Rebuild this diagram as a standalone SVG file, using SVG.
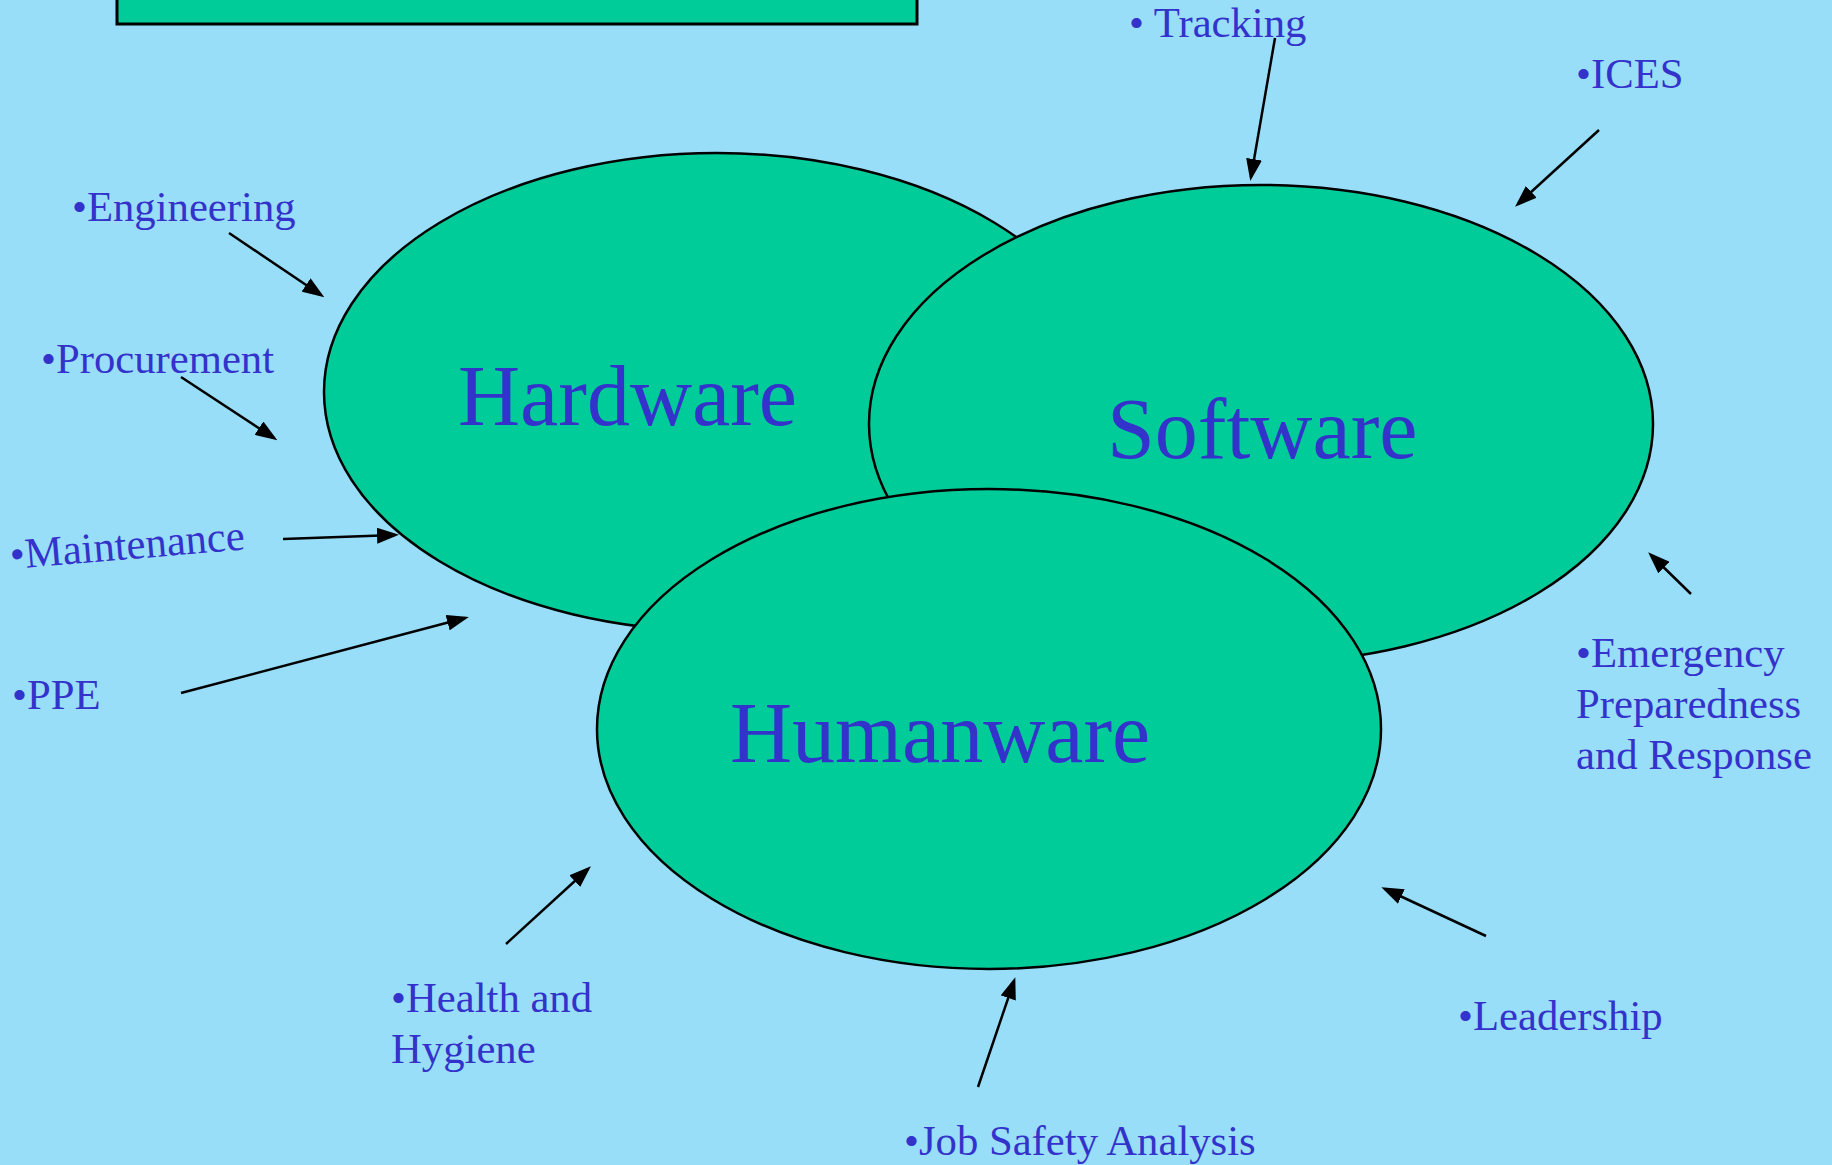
<svg xmlns="http://www.w3.org/2000/svg" width="1832" height="1165" viewBox="0 0 1832 1165">
<style>
.ell{fill:#00CC99;stroke:#000;stroke-width:2.5}
.big{font-family:"Liberation Serif","Times New Roman",serif;font-size:86px;fill:#3333CC}
.lbl{font-family:"Liberation Serif","Times New Roman",serif;font-size:42.7px;fill:#3333CC}
.con{stroke:#000;stroke-width:2.5;fill:none;marker-end:url(#ah)}
</style>
<defs>
<marker id="ah" markerWidth="22" markerHeight="16" refX="18" refY="8" orient="auto" markerUnits="userSpaceOnUse">
<path d="M0,0 L22,8 L0,16 z" fill="#000"/>
</marker>
</defs>
<rect x="0" y="0" width="1832" height="1165" fill="#99DEF8"/>
<g id="title-box">
<rect x="117" y="-40" width="800" height="64" fill="#00CC99" stroke="#000" stroke-width="3"/>
</g>
<g id="hardware">
<ellipse class="ell" cx="717" cy="392" rx="393" ry="239"/>
<text class="big" x="458" y="425">Hardware</text>
</g>
<g id="software">
<ellipse class="ell" cx="1261" cy="424" rx="392" ry="239"/>
<text class="big" x="1107" y="458">Software</text>
</g>
<g id="humanware">
<ellipse class="ell" cx="989" cy="729" rx="392" ry="240"/>
<text class="big" x="730" y="762">Humanware</text>
</g>
<g id="label-tracking"><text class="lbl" x="1129" y="37">• Tracking</text></g>
<g id="label-ices"><text class="lbl" x="1576" y="88">•ICES</text></g>
<g id="label-engineering"><text class="lbl" x="72" y="221">•Engineering</text></g>
<g id="label-procurement"><text class="lbl" x="41" y="373">•Procurement</text></g>
<g id="label-maintenance"><text class="lbl" x="11" y="569" transform="rotate(-4.8 11 569)">•Maintenance</text></g>
<g id="label-ppe"><text class="lbl" x="12" y="709">•PPE</text></g>
<g id="label-emergency"><text class="lbl" x="1576" y="667">•Emergency<tspan x="1576" y="718">Preparedness</tspan><tspan x="1576" y="769">and Response</tspan></text></g>
<g id="label-health"><text class="lbl" x="391" y="1012">•Health and<tspan x="391" y="1063">Hygiene</tspan></text></g>
<g id="label-leadership"><text class="lbl" x="1458" y="1030">•Leadership</text></g>
<g id="label-jsa"><text class="lbl" x="904" y="1155">•Job Safety Analysis</text></g>
<g id="connectors">
<line class="con" x1="1275" y1="38" x2="1251" y2="177"/>
<line class="con" x1="1599" y1="130" x2="1518" y2="204"/>
<line class="con" x1="229" y1="233" x2="321" y2="295"/>
<line class="con" x1="181" y1="377" x2="274" y2="438"/>
<line class="con" x1="283" y1="539" x2="395" y2="535"/>
<line class="con" x1="181" y1="693" x2="465" y2="618"/>
<line class="con" x1="1691" y1="594" x2="1651" y2="555"/>
<line class="con" x1="506" y1="944" x2="588" y2="869"/>
<line class="con" x1="978" y1="1087" x2="1014" y2="981"/>
<line class="con" x1="1486" y1="936" x2="1385" y2="889"/>
</g>
</svg>
